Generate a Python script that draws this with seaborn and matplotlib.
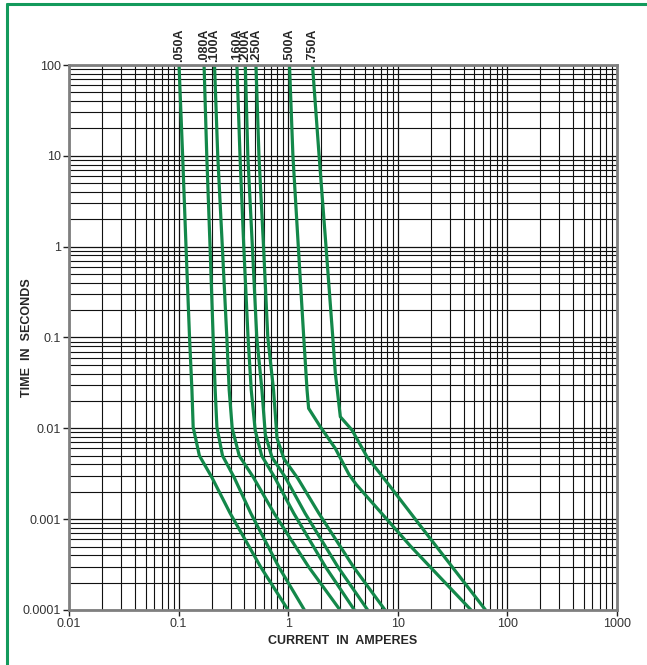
import pandas as pd
import seaborn as sns
import matplotlib as mpl
mpl.use('Agg')
import matplotlib.pyplot as plt
from matplotlib.ticker import LogLocator, FuncFormatter, NullFormatter
from matplotlib.lines import Line2D

# fuse ratings (labels at the top of each curve)
ratings = ['.050A', '.080A', '.100A', '.160A', '.200A', '.250A', '.500A', '.750A']

# current (A) / time (s) for every curve
amps_050 = [0.101, 0.109, 0.117, 0.126, 0.1325, 0.136, 0.155, 0.201, 0.296, 0.56, 1.0]
secs_050 = [100, 10, 1, 0.1, 0.0264, 0.0103, 0.005, 0.0029, 0.00116, 0.0003, 0.0001]

amps_080 = [0.171, 0.181, 0.194, 0.207, 0.216, 0.224, 0.252, 0.321, 0.457, 0.82, 1.41]
secs_080 = [100, 10, 1, 0.1, 0.0264, 0.0103, 0.005, 0.0029, 0.00116, 0.0003, 0.0001]

amps_100 = [0.213, 0.228, 0.251, 0.276, 0.290, 0.309, 0.358, 0.481, 0.746, 1.535, 2.98]
secs_100 = [100, 10, 1, 0.1, 0.0264, 0.0100, 0.005, 0.0029, 0.00116, 0.0003, 0.0001]

amps_160 = [0.341, 0.364, 0.394, 0.431, 0.461, 0.501, 0.574, 0.752, 1.127, 2.19, 4.03]
secs_160 = [100, 10, 1, 0.1, 0.0264, 0.0095, 0.005, 0.0029, 0.00116, 0.0003, 0.0001]

amps_200 = [0.407, 0.429, 0.472, 0.518, 0.577, 0.620, 0.713, 0.942, 1.43, 2.84, 5.33]
secs_200 = [100, 10, 1, 0.1, 0.0264, 0.0085, 0.0048, 0.0029, 0.00116, 0.0003, 0.0001]

amps_250 = [0.509, 0.542, 0.597, 0.653, 0.737, 0.792, 0.918, 1.23, 1.91, 3.94, 7.67]
secs_250 = [100, 10, 1, 0.1, 0.0264, 0.0078, 0.0046, 0.0028, 0.00116, 0.0003, 0.0001]

amps_500 = [1.03, 1.107, 1.24, 1.39, 1.49, 1.54, 1.97, 2.70, 3.6, 4.2, 13.1, 46.8]
secs_500 = [100, 10, 1, 0.1, 0.0264, 0.0166, 0.0104, 0.006, 0.0031, 0.0024, 0.000505, 0.0001]

amps_750 = [1.67, 1.92, 2.22, 2.56, 2.70, 3.00, 3.84, 5.26, 8.60, 16.2, 63.5]
secs_750 = [100, 10, 1, 0.1, 0.0406, 0.0134, 0.00955, 0.00485, 0.00227, 0.00084, 0.0001]

curves = [
    (amps_050, secs_050), (amps_080, secs_080), (amps_100, secs_100), (amps_160, secs_160),
    (amps_200, secs_200), (amps_250, secs_250), (amps_500, secs_500), (amps_750, secs_750),
]

rows = []
for r, (a, s) in zip(ratings, curves):
    for x, y in zip(a, s):
        rows.append({'rating': r, 'amps': x, 'secs': y})
df = pd.DataFrame(rows)

sns.set_style('white')
plt.rcParams['font.family'] = ['Liberation Sans', 'DejaVu Sans']

green = '#13884a'

fig = plt.figure(figsize=(6.47, 6.65), dpi=100)
ax = fig.add_axes([69 / 647, 1 - 610 / 665, 547.7 / 647, 545 / 665])

ax.set_xscale('log')
ax.set_yscale('log')
ax.set_xlim(0.01, 1000)
ax.set_ylim(0.0001, 100)

for axis in (ax.xaxis, ax.yaxis):
    axis.set_major_locator(LogLocator(base=10))
    axis.set_minor_locator(LogLocator(base=10, subs=range(2, 10)))
    axis.set_major_formatter(FuncFormatter(lambda v, p: '%g' % v))
    axis.set_minor_formatter(NullFormatter())

ax.grid(which='major', color='#111111', lw=0.9)
ax.grid(which='minor', color='#111111', lw=0.8)
ax.set_axisbelow(True)

sns.lineplot(data=df, x='amps', y='secs', hue='rating', units='rating', estimator=None,
             sort=False, palette=[green] * len(ratings), lw=2.3, legend=False, ax=ax)

# rating labels, narrow bold type so the close ones just touch
for r, (a, s) in zip(ratings, curves):
    ax.annotate(r, xy=(a[0], 100), xytext=(0, 2), textcoords='offset points',
                rotation=90, ha='center', va='bottom', fontsize=9, fontweight='bold',
                family=['Liberation Sans Narrow', 'Liberation Sans'],
                annotation_clip=False)

for sp in ax.spines.values():
    sp.set_color('#7f7f7f')
    sp.set_linewidth(2)

ax.tick_params(which='major', direction='out', length=4, width=1, color='#222222',
               labelsize=9, labelcolor='#333333', left=True, bottom=True, pad=2)
ax.tick_params(which='minor', length=0)

ax.set_xlabel('CURRENT  IN  AMPERES', fontsize=9, fontweight='bold', labelpad=3)
ax.set_ylabel('TIME  IN  SECONDS', fontsize=9, fontweight='bold')
ax.yaxis.set_label_coords((33 - 69) / 547.7, 0.5)

# green frame on the top and left side of the page
fig.add_artist(Line2D([7 / 647, 1], [1 - 4 / 665, 1 - 4 / 665], color='#139a5c', lw=2.2,
                      transform=fig.transFigure))
fig.add_artist(Line2D([7 / 647, 7 / 647], [0, 1 - 4 / 665], color='#139a5c', lw=2.2,
                      transform=fig.transFigure))

fig.savefig('out.png', dpi=100)
